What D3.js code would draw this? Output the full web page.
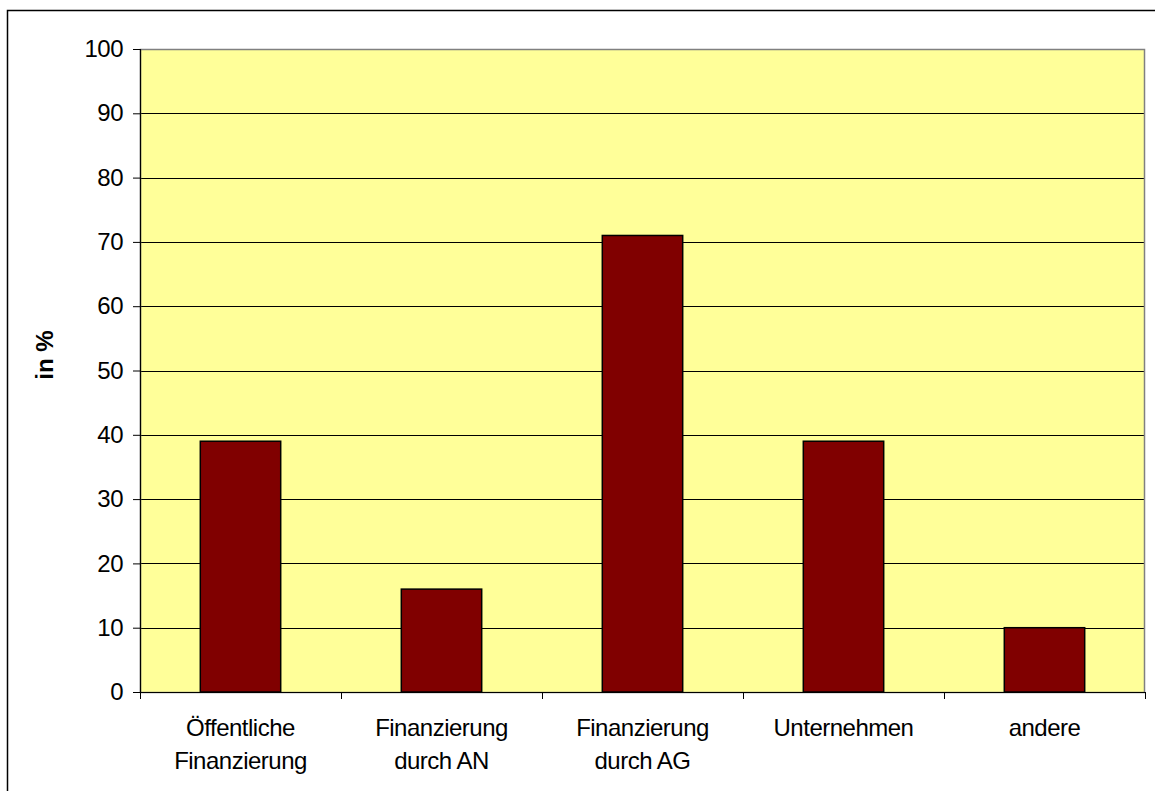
<!DOCTYPE html>
<html><head><meta charset="utf-8">
<script src="https://cdn.jsdelivr.net/npm/d3@7"></script>
<style>body{margin:0;background:#fff;} text{font-family:"Liberation Sans",Arial,sans-serif;}</style>
</head><body>
<svg id="c" width="1155" height="791"></svg>
<script>
const categories = [["Öffentliche","Finanzierung"],["Finanzierung","durch AN"],["Finanzierung","durch AG"],["Unternehmen"],["andere"]];
const values = [39, 16, 71, 39, 10];
const yTicks = [0,10,20,30,40,50,60,70,80,90,100];
const yLabel = "in %";

const svg = d3.select("#c");
const m = {left:140, right:1145, top:49, bottom:692};
svg.append("rect").attr("x",7.5).attr("y",10.5).attr("width",1160).attr("height",800)
  .attr("fill","#fff").attr("stroke","#000").attr("stroke-width",1.5);

const keys = categories.map((c,i)=>i);
const x = d3.scaleBand().domain(keys).range([m.left,m.right]).paddingInner(0.6).paddingOuter(0.3);
const xb = d3.scaleBand().domain(keys).range([m.left,m.right]);
const y = d3.scaleLinear().domain([0,100]).range([m.bottom,m.top]);

svg.append("rect").attr("x",m.left).attr("y",m.top).attr("width",m.right-m.left).attr("height",m.bottom-m.top)
  .attr("fill","#ffff99");
// gridlines
svg.append("g").selectAll("line").data(yTicks.filter(t=>t>0 && t<100)).join("line")
  .attr("x1",m.left).attr("x2",m.right).attr("y1",d=>Math.round(y(d))+0.5).attr("y2",d=>Math.round(y(d))+0.5)
  .attr("stroke","#000").attr("stroke-width",1);
// plot border
svg.append("rect").attr("x",m.left+0.5).attr("y",m.top+0.5).attr("width",m.right-m.left-1).attr("height",m.bottom-m.top)
  .attr("fill","none").attr("stroke","#808080").attr("stroke-width",1.5);

// bars
svg.append("g").selectAll("rect").data(values).join("rect")
  .attr("x",(d,i)=>x(i)).attr("width",x.bandwidth())
  .attr("y",d=>y(d)).attr("height",d=>y(0)-y(d))
  .attr("fill","#800000").attr("stroke","#000").attr("stroke-width",1.5);

// y axis
const ya = d3.axisLeft(y).tickValues(yTicks).tickSize(7).tickPadding(10);
const gy = svg.append("g").attr("transform",`translate(${m.left},0)`).call(ya);
gy.select(".domain").attr("stroke","#000").attr("stroke-width",1.2);
gy.selectAll(".tick line").attr("stroke","#000");
gy.selectAll("text").attr("font-size",24).attr("fill","#000").attr("letter-spacing",-0.5)
  .attr("font-family","Liberation Sans, Arial, sans-serif");

// x axis
const gx = svg.append("g").attr("transform",`translate(0,${m.bottom})`);
gx.append("line").attr("x1",m.left).attr("x2",m.right).attr("y1",0.5).attr("y2",0.5).attr("stroke","#000").attr("stroke-width",1.2);
const bounds = keys.map(k=>xb(k)).concat([m.right]);
gx.selectAll("line.t").data(bounds).join("line").attr("class","t")
  .attr("x1",d=>Math.round(d)+0.5).attr("x2",d=>Math.round(d)+0.5).attr("y1",0).attr("y2",7).attr("stroke","#000");
gx.selectAll("text").data(categories).join("text")
  .attr("x",(d,i)=>xb(i)+xb.bandwidth()/2).attr("y",44)
  .attr("text-anchor","middle").attr("font-size",24).attr("letter-spacing",-0.5).attr("fill","#000")
  .selectAll("tspan").data(d=>d).join("tspan")
  .attr("x",function(){return this.parentNode.getAttribute("x");})
  .attr("dy",(d,i)=>i===0?0:33).text(d=>d);

svg.append("text").attr("transform","translate(53,355) rotate(-90)")
  .attr("text-anchor","middle").attr("font-size",24).attr("font-weight","bold").text(yLabel);
</script>
</body></html>
